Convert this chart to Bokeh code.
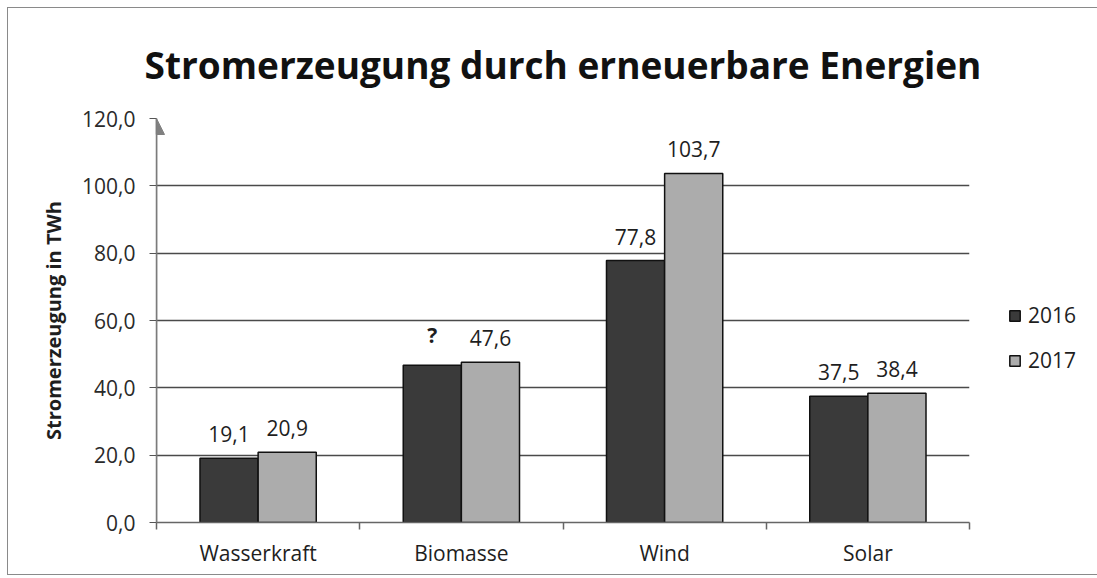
from bokeh.plotting import figure
from bokeh.models import (ColumnDataSource, FactorRange, Range1d, Legend, LegendItem,
                          Arrow, NormalHead, FixedTicker, LinearAxis)
from bokeh.transform import dodge
from bokeh.core.properties import value
from bokeh.embed import file_html
from bokeh.resources import INLINE

categories = ["Wasserkraft", "Biomasse", "Wind", "Solar"]
values_2016 = [19.1, 46.7, 77.8, 37.5]
values_2017 = [20.9, 47.6, 103.7, 38.4]
labels_2016 = ["19,1", "?", "77,8", "37,5"]
labels_2017 = ["20,9", "47,6", "103,7", "38,4"]
y_ticks = [0, 20, 40, 60, 80, 100, 120]

title = "Stromerzeugung durch erneuerbare Energien"
y_label = "Stromerzeugung in TWh"

FONT = "Open Sans"
DARK = "#3a3a3a"
LIGHT = "#acacac"
TXT = "#1e1e1e"

src = ColumnDataSource(dict(cat=categories, v16=values_2016, v17=values_2017,
                            l16=labels_2016, l17=labels_2017,
                            w16=["bold" if l == "?" else "normal" for l in labels_2016]))

p = figure(x_range=FactorRange(*categories, range_padding=0), y_range=Range1d(0, 120),
           frame_width=813, frame_height=404, output_backend="svg", toolbar_location=None,
           min_border_left=148, min_border_right=124, min_border_top=106, min_border_bottom=52)
p.styles = {"border": "1px solid #8a8a8a", "margin-left": "7px", "margin-top": "7px"}

p.title.text = title
p.title.align = "center"
p.title.text_font = FONT
p.title.text_font_style = "bold"
p.title.text_font_size = "37px"
p.title.text_color = "#111111"
p.title.standoff = 57
p.title.offset = -16

bw = 0.286
r16 = p.vbar(x=dodge("cat", -bw / 2, range=p.x_range), top="v16", width=bw, source=src,
             fill_color=DARK, line_color="#111111", line_width=1.5)
r17 = p.vbar(x=dodge("cat", bw / 2, range=p.x_range), top="v17", width=bw, source=src,
             fill_color=LIGHT, line_color="#111111", line_width=1.5)

p.text(x=dodge("cat", -bw / 2, range=p.x_range), y="v16", text="l16", source=src,
       text_align="center", text_baseline="bottom", y_offset=-16,
       text_font=value(FONT), text_font_size="21px", text_color=TXT, text_font_style="w16")
p.text(x=dodge("cat", bw / 2, range=p.x_range), y="v17", text="l17", source=src,
       text_align="center", text_baseline="bottom", y_offset=-16,
       text_font=value(FONT), text_font_size="21px", text_color=TXT)

# y axis
p.yaxis.ticker = FixedTicker(ticks=y_ticks)
p.yaxis.major_label_overrides = {t: f"{t:.1f}".replace(".", ",") for t in y_ticks}
p.yaxis.axis_label = y_label
p.yaxis.axis_label_text_font = FONT
p.yaxis.axis_label_text_font_style = "bold"
p.yaxis.axis_label_text_font_size = "20px"
p.yaxis.axis_label_text_color = TXT
p.yaxis.axis_label_standoff = 12
p.yaxis.major_label_text_font = FONT
p.yaxis.major_label_text_font_size = "21px"
p.yaxis.major_label_text_color = "#2a2a2a"
p.yaxis.major_label_standoff = 14
p.yaxis.major_tick_out = 7
p.yaxis.major_tick_in = 0
p.yaxis.major_tick_line_color = "#555555"
p.yaxis.minor_tick_line_color = None
p.yaxis.axis_line_color = "#777777"
p.yaxis.axis_line_width = 1.5

# category axis (labels only)
cat_axis = p.xaxis[0]
cat_axis.major_label_text_font = FONT
cat_axis.major_label_text_font_size = "21px"
cat_axis.major_label_text_color = TXT
cat_axis.major_label_standoff = 3
cat_axis.major_tick_line_color = None
cat_axis.axis_line_color = None

# boundary ticks between categories (synthetic coordinates of the factor range)
n_cat = len(categories)
edge_axis = LinearAxis(ticker=FixedTicker(ticks=list(range(n_cat + 1))),
                       major_label_text_font_size="1px", major_label_text_alpha=0,
                       major_label_standoff=0, major_tick_out=7, major_tick_in=0,
                       major_tick_line_color="#666666", major_tick_line_width=1.5,
                       minor_tick_line_color=None, axis_line_color="#666666", axis_line_width=1.5)
p.below = [edge_axis] + list(p.below)

p.xgrid.grid_line_color = None
p.ygrid.grid_line_color = "#4a4a4a"
p.ygrid.grid_line_width = 1.5
p.outline_line_color = None

p.add_layout(Arrow(x_start=0, y_start=0, x_end=0, y_end=120, line_color="#808080", line_width=1.5,
                   end=NormalHead(size=16, fill_color="#808080", line_color="#808080")))

legend = Legend(items=[LegendItem(label="2016", renderers=[r16]),
                       LegendItem(label="2017", renderers=[r17])],
                location=(39, 148), orientation="vertical",
                label_text_font=FONT, label_text_font_size="21px", label_text_color=TXT,
                glyph_width=13, glyph_height=13, label_standoff=7, spacing=17,
                border_line_color=None, background_fill_alpha=0, margin=0, padding=0)
p.add_layout(legend, "right")

open("out.html", "w").write(file_html(p, INLINE))
